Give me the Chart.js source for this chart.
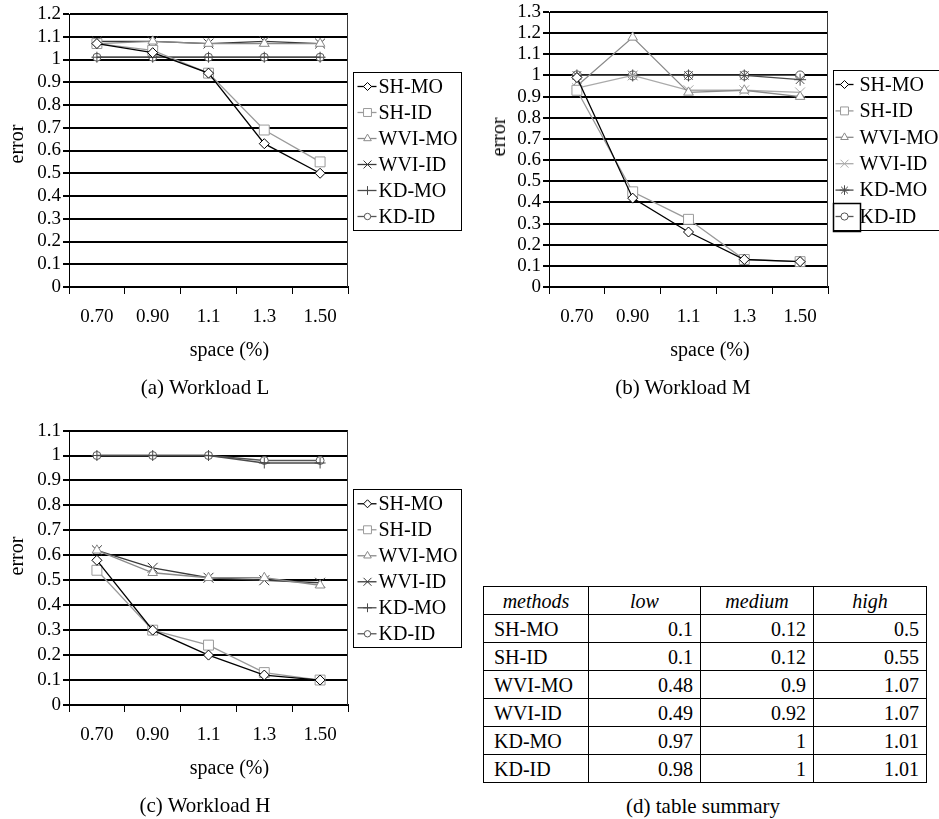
<!DOCTYPE html>
<html>
<head>
<meta charset="utf-8">
<script src="https://cdn.jsdelivr.net/npm/chart.js@4.4.1/dist/chart.umd.min.js"></script>
<style>
  html, body { margin: 0; padding: 0; background: #fff; }
  body { width: 939px; height: 819px; position: relative; overflow: hidden;
         font-family: "Liberation Serif", "Times New Roman", serif; color: #000; }
  canvas { position: absolute; }
  .lbl { position: absolute; white-space: nowrap; line-height: 1; transform: translate(-50%, -50%); }
  .cap { font-size: 21px; }
  .ax { font-size: 20px; }
  .rot { transform: translate(-50%, -50%) rotate(-90deg); }
  #summary { position: absolute; left: 483px; top: 586px; width: 443px; height: 192px;
             border-collapse: collapse; table-layout: fixed; font-size: 20px; }
  #summary td, #summary th { border: 1px solid #000; padding: 0 7px; height: 27px; line-height: 1; font-weight: normal; }
  #summary th { font-style: italic; text-align: center; }
  #summary td { text-align: right; }
  #summary td.m { text-align: left; padding-left: 10px; }
</style>
</head>
<body>

<canvas id="chartL" width="470" height="340" style="left:0;top:0"></canvas>
<canvas id="chartM" width="469" height="340" style="left:470px;top:0"></canvas>
<canvas id="chartH" width="470" height="340" style="left:0;top:420px"></canvas>

<div class="lbl ax rot" style="left:15.5px;top:144px">error</div>
<div class="lbl ax" style="left:229.5px;top:349px">space (%)</div>
<div class="lbl cap" style="left:205px;top:387px">(a) Workload L</div>

<div class="lbl ax rot" style="left:498px;top:137px">error</div>
<div class="lbl ax" style="left:710px;top:349px">space (%)</div>
<div class="lbl cap" style="left:683px;top:387px">(b) Workload M</div>

<div class="lbl ax rot" style="left:15.5px;top:556px">error</div>
<div class="lbl ax" style="left:229.5px;top:767px">space (%)</div>
<div class="lbl cap" style="left:205px;top:805px">(c) Workload H</div>

<table id="summary">
  <colgroup><col style="width:105px"><col style="width:112px"><col style="width:113px"><col style="width:113px"></colgroup>
  <tbody id="summaryBody"></tbody>
</table>
<div class="lbl cap" style="left:703px;top:806px">(d) table summary</div>

<script>
// x categories: storage space in percent
const spaceLabels = ['0.70', '0.90', '1.1', '1.3', '1.50'];
const methodNames = ['SH-MO', 'SH-ID', 'WVI-MO', 'WVI-ID', 'KD-MO', 'KD-ID'];

// (a) Workload L
const L_shMo  = [1.07, 1.03, 0.94, 0.63, 0.50];
const L_shId  = [1.07, 1.04, 0.94, 0.69, 0.55];
const L_wviMo = [1.07, 1.08, 1.07, 1.07, 1.07];
const L_wviId = [1.08, 1.08, 1.07, 1.08, 1.07];
const L_kdMo  = [1.01, 1.01, 1.01, 1.01, 1.01];
const L_kdId  = [1.01, 1.01, 1.01, 1.01, 1.01];

// (b) Workload M
const M_shMo  = [0.99, 0.42, 0.26, 0.13, 0.12];
const M_shId  = [0.93, 0.45, 0.32, 0.13, 0.12];
const M_wviMo = [0.95, 1.18, 0.92, 0.93, 0.90];
const M_wviId = [0.94, 1.00, 0.93, 0.93, 0.92];
const M_kdMo  = [1.00, 1.00, 1.00, 1.00, 0.98];
const M_kdId  = [1.00, 1.00, 1.00, 1.00, 1.00];

// (c) Workload H
const H_shMo  = [0.58, 0.30, 0.20, 0.12, 0.10];
const H_shId  = [0.54, 0.30, 0.24, 0.13, 0.10];
const H_wviMo = [0.62, 0.53, 0.51, 0.51, 0.48];
const H_wviId = [0.62, 0.55, 0.51, 0.50, 0.49];
const H_kdMo  = [1.00, 1.00, 1.00, 0.97, 0.97];
const H_kdId  = [1.00, 1.00, 1.00, 0.98, 0.98];

// (d) summary at the largest space setting
const summaryCols   = ['low', 'medium', 'high'];
const summaryLow    = [0.1, 0.1, 0.48, 0.49, 0.97, 0.98];
const summaryMedium = [0.12, 0.12, 0.9, 0.92, 1, 1];
const summaryHigh   = [0.5, 0.55, 1.07, 1.07, 1.01, 1.01];

const SERIF = '"Liberation Serif", "Times New Roman", serif';

// marker / line style per method
const stylesLH = [
  { color: '#000000', shape: 'rectRot',  r: 5 },
  { color: '#9a9a9a', shape: 'rect',     r: 7 },
  { color: '#8a8a8a', shape: 'triangle', r: 5.5 },
  { color: '#3a3a3a', shape: 'crossRot', r: 7 },
  { color: '#4a4a4a', shape: 'cross',    r: 5.5 },
  { color: '#555555', shape: 'circle',   r: 4 }
];
const stylesM = [
  { color: '#000000', shape: 'rectRot',  r: 5 },
  { color: '#9a9a9a', shape: 'rect',     r: 7 },
  { color: '#8a8a8a', shape: 'triangle', r: 5.5 },
  { color: '#aaaaaa', shape: 'crossRot', r: 7 },
  { color: '#4a4a4a', shape: 'star',     r: 6 },
  { color: '#555555', shape: 'circle',   r: 4.5 }
];

// boxed legend at the right of the plot: a line stub with the marker, then the name
const boxLegend = {
  id: 'boxLegend',
  afterDraw(chart, args, o) {
    const { ctx, chartArea: a } = chart;
    const x0 = Math.round(a.right + o.gap) + 0.5;
    const cy = (a.top + a.bottom) / 2 + o.shiftY;
    const y0 = Math.round(cy - o.height / 2) + 0.5;
    ctx.save();
    ctx.fillStyle = '#fff';
    ctx.fillRect(x0, y0, o.width, o.height);
    ctx.strokeStyle = '#000';
    ctx.lineWidth = 1;
    ctx.strokeRect(x0, y0, o.width, o.height);
    chart.data.datasets.forEach((ds, i) => {
      const y = cy + (i - 2.5) * o.row + o.rowShift;
      ctx.strokeStyle = ds.borderColor;
      ctx.lineWidth = ds.borderWidth;
      ctx.beginPath();
      ctx.moveTo(x0 + o.lineFrom, y);
      ctx.lineTo(x0 + o.lineTo, y);
      ctx.stroke();
      ctx.fillStyle = '#fff';
      ctx.strokeStyle = ds.borderColor;
      ctx.lineWidth = 1;
      Chart.helpers.drawPoint(ctx, { pointStyle: ds.pointStyle, radius: ds.pointRadius * 0.8, rotation: 0, borderWidth: 1 }, x0 + o.markerX, y);
      ctx.fillStyle = '#000';
      ctx.font = '20px ' + SERIF;
      ctx.textBaseline = 'middle';
      ctx.textAlign = 'left';
      ctx.fillText(ds.label, x0 + o.textX, y + 1);
      if (o.markLast && i === chart.data.datasets.length - 1) {
        ctx.strokeStyle = '#000';
        ctx.lineWidth = 1.5;
        ctx.strokeRect(x0, Math.round(y - 14) + 0.5, 27, 28);
      }
    });
    ctx.restore();
  }
};

// right-hand frame line of the plot area
const plotFrame = {
  id: 'plotFrame',
  afterDraw(chart) {
    const { ctx, chartArea: a } = chart;
    const x = Math.round(a.right) - 0.5;
    ctx.save();
    ctx.strokeStyle = '#333';
    ctx.lineWidth = 1;
    ctx.beginPath();
    ctx.moveTo(x, a.top);
    ctx.lineTo(x, a.bottom);
    ctx.stroke();
    ctx.restore();
  }
};

function makeChart(id, series, styles, yMax, area, legend) {
  const canvas = document.getElementById(id);
  const W = canvas.width, H = canvas.height;
  const tickFont = { family: SERIF, size: 19, lineHeight: 0.9 };
  return new Chart(canvas, {
    type: 'line',
    data: {
      labels: spaceLabels,
      datasets: series.map((d, i) => ({
        label: methodNames[i],
        data: d,
        borderColor: styles[i].color,
        backgroundColor: '#fff',
        borderWidth: 1.3,
        pointStyle: styles[i].shape,
        pointRadius: styles[i].r,
        pointBorderColor: styles[i].color,
        pointBackgroundColor: '#fff',
        pointBorderWidth: 1,
        tension: 0,
        fill: false,
        clip: false
      }))
    },
    options: {
      responsive: false,
      animation: false,
      devicePixelRatio: 1,
      layout: { padding: { top: area.top, right: W - area.right, left: 0, bottom: 0 } },
      plugins: { legend: { display: false }, tooltip: { enabled: false }, boxLegend: legend },
      scales: {
        x: {
          type: 'category',
          offset: true,
          grid: { offset: true, drawOnChartArea: false, color: '#000', lineWidth: 1, tickLength: 7 },
          border: { display: true, color: '#000', width: 2 },
          ticks: { color: '#000', font: { family: SERIF, size: 19 }, padding: 12, maxRotation: 0, autoSkip: false },
          afterFit(s) { s.height = H - area.bottom; }
        },
        y: {
          min: 0,
          max: yMax,
          ticks: { stepSize: 0.1, color: '#000', font: tickFont, padding: 2,
                   callback: v => String(+Number(v).toFixed(1)) },
          grid: { color: '#000', lineWidth: 2, tickLength: 6 },
          border: { display: true, color: '#000', width: 1 },
          afterFit(s) { s.width = area.left; }
        }
      }
    },
    plugins: [boxLegend, plotFrame]
  });
}

const legendLH = { gap: 5, width: 108, height: 158, row: 26, rowShift: 1, shiftY: 0,
                   lineFrom: 4, lineTo: 23, markerX: 14, textX: 25, markLast: false };
const legendM  = { gap: 5, width: 112, height: 160, row: 26.4, rowShift: 1, shiftY: 0,
                   lineFrom: 2, lineTo: 20, markerX: 11, textX: 26, markLast: true };

makeChart('chartL', [L_shMo, L_shId, L_wviMo, L_wviId, L_kdMo, L_kdId], stylesLH, 1.2,
          { left: 69, top: 14, right: 348, bottom: 287 }, legendLH);
makeChart('chartM', [M_shMo, M_shId, M_wviMo, M_wviId, M_kdMo, M_kdId], stylesM, 1.3,
          { left: 79, top: 12, right: 358, bottom: 287 }, legendM);
makeChart('chartH', [H_shMo, H_shId, H_wviMo, H_wviId, H_kdMo, H_kdId], stylesLH, 1.1,
          { left: 69, top: 9, right: 348, bottom: 285 }, legendLH);

// summary table
const body = document.getElementById('summaryBody');
let html = '<tr><th>methods</th>' + summaryCols.map(c => '<th>' + c + '</th>').join('') + '</tr>';
methodNames.forEach((m, i) => {
  html += '<tr><td class="m">' + m + '</td><td>' + summaryLow[i] + '</td><td>' +
          summaryMedium[i] + '</td><td>' + summaryHigh[i] + '</td></tr>';
});
body.innerHTML = html;
</script>
</body>
</html>
